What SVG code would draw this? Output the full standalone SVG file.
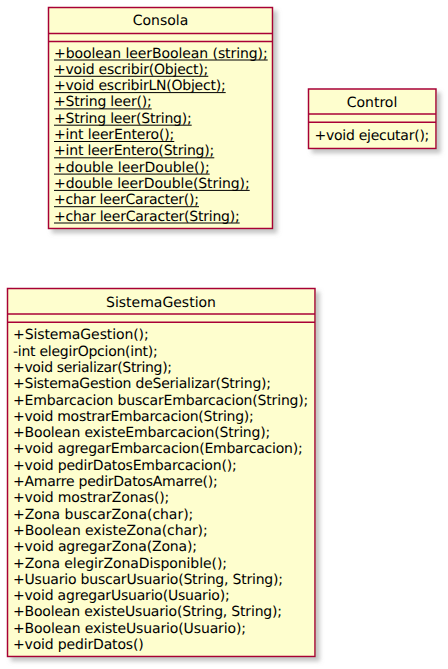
<svg xmlns="http://www.w3.org/2000/svg" width="448" height="669" viewBox="0 0 448 669">
<defs>
<filter id="sh" x="-10%" y="-10%" width="130%" height="130%">
<feGaussianBlur in="SourceAlpha" stdDeviation="2"/>
<feOffset dx="4" dy="4" result="b"/>
<feColorMatrix in="b" type="matrix" values="0 0 0 0 0.3 0 0 0 0 0.3 0 0 0 0 0.3 0 0 0 0.55 0"/>
<feMerge><feMergeNode/><feMergeNode in="SourceGraphic"/></feMerge>
</filter>
<style>
.box{fill:#FEFECE;stroke:#A80036;stroke-width:1.5;filter:url(#sh)}
.sep{stroke:#A80036;stroke-width:1.5}
.ul{stroke:#000;stroke-width:1}
text{font-family:"DejaVu Sans","Liberation Sans",sans-serif;font-size:14px;fill:#000;text-rendering:geometricPrecision}
.t{text-anchor:middle}
</style>
</defs>
<rect width="448" height="669" fill="#FFFFFF"/>
<g id="Consola">
<rect class="box" x="48.5" y="7.5" width="224" height="221"/>
<text class="t" x="160.5" y="25">Consola</text>
<line class="sep" x1="48.5" y1="33.5" x2="272.5" y2="33.5"/>
<line class="sep" x1="48.5" y1="41.5" x2="272.5" y2="41.5"/>
<text x="54" y="57.5" textLength="213.7">+boolean leerBoolean (string);</text>
<text x="54" y="73.8" textLength="154.3">+void escribir(Object);</text>
<text x="54" y="90.1" textLength="171.7">+void escribirLN(Object);</text>
<text x="54" y="106.4" textLength="97.7">+String leer();</text>
<text x="54" y="122.7" textLength="137.7">+String leer(String);</text>
<text x="54" y="139" textLength="120.3">+int leerEntero();</text>
<text x="54" y="155.3" textLength="160.3">+int leerEntero(String);</text>
<text x="54" y="171.6" textLength="155.7">+double leerDouble();</text>
<text x="54" y="187.9" textLength="195.7">+double leerDouble(String);</text>
<text x="54" y="204.2" textLength="145">+char leerCaracter();</text>
<text x="54" y="220.5" textLength="185.7">+char leerCaracter(String);</text>
<g class="ul">
<line x1="54" y1="60" x2="267.7" y2="60"/>
<line x1="54" y1="76.3" x2="208.3" y2="76.3"/>
<line x1="54" y1="92.6" x2="225.7" y2="92.6"/>
<line x1="54" y1="108.9" x2="151.7" y2="108.9"/>
<line x1="54" y1="125.2" x2="191.7" y2="125.2"/>
<line x1="54" y1="141.5" x2="174.3" y2="141.5"/>
<line x1="54" y1="157.8" x2="214.3" y2="157.8"/>
<line x1="54" y1="174.1" x2="209.7" y2="174.1"/>
<line x1="54" y1="190.4" x2="249.7" y2="190.4"/>
<line x1="54" y1="206.7" x2="199" y2="206.7"/>
<line x1="54" y1="223" x2="239.7" y2="223"/>
</g>
</g>
<g id="Control">
<rect class="box" x="308.5" y="89" width="127.5" height="59.5"/>
<text class="t" x="372" y="106.7">Control</text>
<line class="sep" x1="308.5" y1="114" x2="436" y2="114"/>
<line class="sep" x1="308.5" y1="122.3" x2="436" y2="122.3"/>
<text x="314.5" y="140" textLength="114.8">+void ejecutar();</text>
</g>
<g id="SistemaGestion">
<rect class="box" x="7.5" y="288.5" width="307.5" height="368"/>
<text class="t" x="161" y="306.7">SistemaGestion</text>
<line class="sep" x1="7.5" y1="314" x2="315" y2="314"/>
<line class="sep" x1="7.5" y1="322.3" x2="315" y2="322.3"/>
<text x="13" y="339.3" textLength="135.7">+SistemaGestion();</text>
<text x="13" y="355.6" textLength="144.7">-int elegirOpcion(int);</text>
<text x="13" y="371.9" textLength="159">+void serializar(String);</text>
<text x="13" y="388.2" textLength="258">+SistemaGestion deSerializar(String);</text>
<text x="13" y="404.5" textLength="295.3">+Embarcacion buscarEmbarcacion(String);</text>
<text x="13" y="420.8" textLength="240.7">+void mostrarEmbarcacion(String);</text>
<text x="13" y="437.1" textLength="257.3">+Boolean existeEmbarcacion(String);</text>
<text x="13" y="453.4" textLength="289.7">+void agregarEmbarcacion(Embarcacion);</text>
<text x="13" y="469.7" textLength="223.7">+void pedirDatosEmbarcacion();</text>
<text x="13" y="486" textLength="204.7">+Amarre pedirDatosAmarre();</text>
<text x="13" y="502.3" textLength="156.3">+void mostrarZonas();</text>
<text x="13" y="518.6" textLength="180.3">+Zona buscarZona(char);</text>
<text x="13" y="534.9" textLength="194.7">+Boolean existeZona(char);</text>
<text x="13" y="551.2" textLength="184">+void agregarZona(Zona);</text>
<text x="13" y="567.5" textLength="214">+Zona elegirZonaDisponible();</text>
<text x="13" y="583.8" textLength="270">+Usuario buscarUsuario(String, String);</text>
<text x="13" y="600.1" textLength="216.7">+void agregarUsuario(Usuario);</text>
<text x="13" y="616.4" textLength="269">+Boolean existeUsuario(String, String);</text>
<text x="13" y="632.7" textLength="233">+Boolean existeUsuario(Usuario);</text>
<text x="13" y="649" textLength="130.7">+void pedirDatos()</text>
</g>
<g id="connectors"></g>
</svg>
